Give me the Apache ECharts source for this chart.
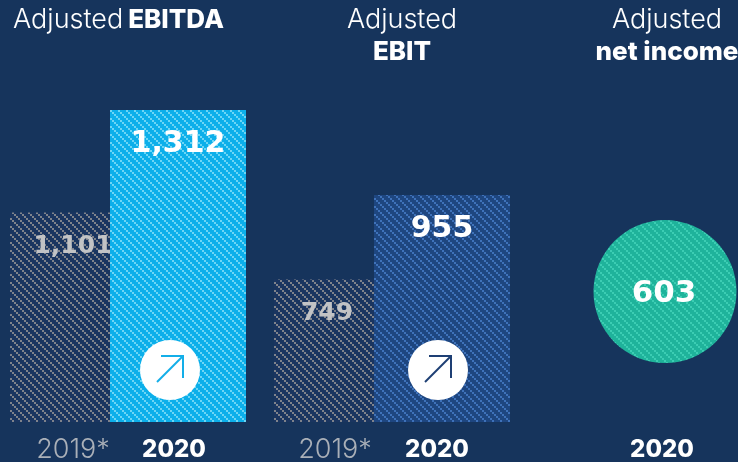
<!DOCTYPE html>
<html>
<head>
<meta charset="utf-8">
<style>
  html, body { margin: 0; padding: 0; background: #16345c; }
  #chart { width: 738px; height: 462px; }
</style>
<script src="https://cdn.jsdelivr.net/npm/echarts@6/dist/echarts.min.js"></script>
</head>
<body>
<div id="chart"></div>
<script>
var categories = ['Adjusted EBITDA', 'Adjusted EBIT', 'Adjusted net income']
var values2019 = [1101, 749, null]
var values2020 = [1312, 955, null]
var netIncome2020 = [603]
var yearLabels = ['2019*', '2020', '2019*', '2020', '2020']

var FONT = 'Inter, "Noto Sans", sans-serif'
var NUM_FONT = '"DejaVu Sans", sans-serif'

// small diagonal tile used as bar fill, 2px steps running down to the right
function hatch(base, stripe) {
  var size = 8
  var c = document.createElement('canvas')
  c.width = c.height = size
  var ctx = c.getContext('2d')
  ctx.fillStyle = base
  ctx.fillRect(0, 0, size, size)
  ctx.fillStyle = stripe
  for (var i = 0; i < size; i += 2) {
    ctx.fillRect(i, i, 2, 2)
  }
  return { image: c, repeat: 'repeat' }
}

var gray = hatch('#1a3560', '#7f838c')
var cyan = hatch('#0cafea', '#6dd6f5')
var blue = hatch('#1e4680', '#3f72ba')
var teal = hatch('#1fb39b', '#3ccdb3')

function valueLabel(color, size) {
  return {
    show: true,
    position: ['50%', 34],
    align: 'center',
    verticalAlign: 'middle',
    color: color,
    fontFamily: NUM_FONT,
    fontWeight: 'bold',
    fontSize: size,
    formatter: function (p) {
      return p.value.toLocaleString('en-US')
    }
  }
}

function yearText(text, x, bold) {
  return {
    type: 'text',
    x: x,
    y: 450,
    style: {
      text: text,
      align: 'center',
      verticalAlign: 'middle',
      fontFamily: FONT,
      fontSize: bold ? 24 : 27,
      fontWeight: bold ? 800 : 300,
      fill: bold ? '#ffffff' : '#aab0b8'
    }
  }
}

function arrowBadge(cx, cy, color) {
  return {
    type: 'group',
    children: [
      { type: 'circle', z: 20, shape: { cx: cx, cy: cy, r: 30 }, style: { fill: '#ffffff' } },
      { type: 'line', z: 21, shape: { x1: cx - 13, y1: cy + 12, x2: cx + 13, y2: cy - 14 }, style: { stroke: color, lineWidth: 2 } },
      { type: 'polyline', z: 21, shape: { points: [[cx - 9, cy - 14], [cx + 13, cy - 14], [cx + 13, cy + 8]] }, style: { stroke: color, lineWidth: 2, fill: null } }
    ]
  }
}

// symbols get scaled and would stretch the hatch, so the circle is a custom mark
function renderNetIncome(params, api) {
  var p = api.coord([api.value(0), api.value(1)])
  var cx = p[0] + 9
  var cy = p[1] + 13
  return {
    type: 'group',
    children: [
      { type: 'circle', shape: { cx: cx, cy: cy, r: 71.5 }, style: { fill: teal } },
      {
        type: 'text',
        x: cx - 1,
        y: cy + 2,
        style: {
          text: String(api.value(1)),
          align: 'center',
          verticalAlign: 'middle',
          fill: '#ffffff',
          fontFamily: NUM_FONT,
          fontWeight: 'bold',
          fontSize: 31
        }
      }
    ]
  }
}

var richTitle = {
  a: { fontFamily: FONT, fontSize: 27, fontWeight: 300, color: '#ffffff', lineHeight: 32 },
  b: { fontFamily: FONT, fontSize: 26, fontWeight: 800, color: '#ffffff', lineHeight: 32 }
}

var chart = echarts.init(document.getElementById('chart'))
chart.setOption({
  backgroundColor: '#16345c',
  animation: false,
  title: [
    { text: '{a|Adjusted} {b|EBITDA}', left: 13, top: 4, padding: 0, textStyle: { rich: richTitle } },
    { text: '{a|Adjusted}\n{b|EBIT}', left: 402, top: 4, padding: 0, textAlign: 'center', textStyle: { rich: richTitle, align: 'center' } },
    { text: '{a|Adjusted}\n{b|net income}', left: 667, top: 4, padding: 0, textAlign: 'center', textStyle: { rich: richTitle, align: 'center' } }
  ],
  grid: { left: -4, width: 792, top: 110, bottom: 40, outerBoundsMode: 'none' },
  xAxis: {
    type: 'category',
    data: categories,
    axisLine: { show: false },
    axisTick: { show: false },
    axisLabel: { show: false }
  },
  yAxis: [
    { type: 'value', min: 0, max: 1312, show: false },
    // the 2019 bars sit on a flatter scale than the 2020 ones in the source
    { type: 'value', min: 0, max: 1640, show: false }
  ],
  series: [
    {
      name: '2019',
      type: 'bar',
      yAxisIndex: 1,
      z: 1,
      barWidth: 100,
      barGap: '0%',
      itemStyle: { color: gray },
      label: valueLabel('#c2c3c5', 25),
      data: [
        { value: values2019[0], label: { offset: [13, 0] } },
        { value: values2019[1], label: { offset: [3, 0] } },
        values2019[2]
      ]
    },
    {
      name: '2020',
      type: 'bar',
      z: 2,
      barWidth: 136,
      itemStyle: { color: cyan },
      label: valueLabel('#ffffff', 30),
      data: [
        { value: values2020[0] },
        { value: values2020[1], itemStyle: { color: blue } },
        values2020[2]
      ]
    },
    {
      name: 'net income',
      type: 'custom',
      z: 3,
      renderItem: renderNetIncome,
      clip: false,
      encode: { x: 0, y: 1 },
      data: [[2, netIncome2020[0]]]
    }
  ],
  graphic: [
    yearText(yearLabels[0], 73, false),
    yearText(yearLabels[1], 174, true),
    yearText(yearLabels[2], 335, false),
    yearText(yearLabels[3], 437, true),
    yearText(yearLabels[4], 662, true),
    arrowBadge(170, 370, '#13aee8'),
    arrowBadge(438, 370, '#1e3f74')
  ]
})
</script>
</body>
</html>
